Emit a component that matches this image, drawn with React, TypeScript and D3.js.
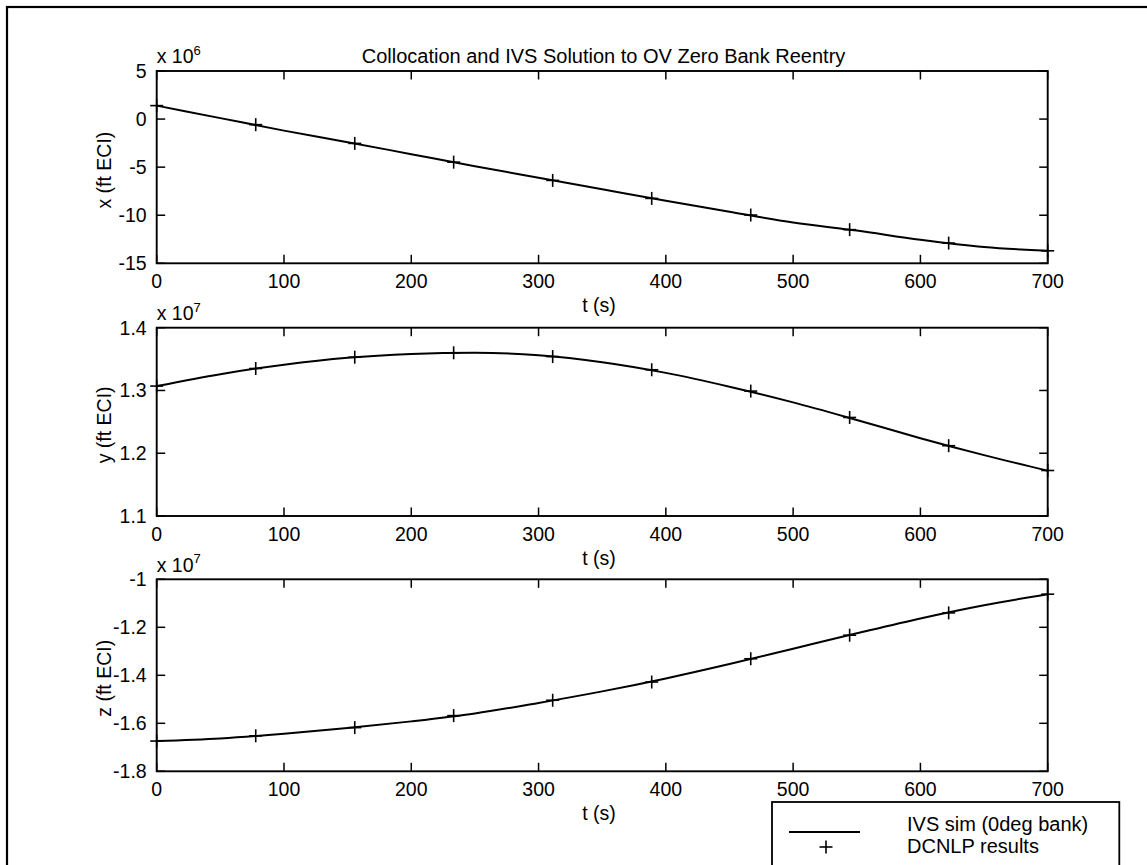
import React from "react";
import * as d3 from "d3";

// ---- data ----
const tSim = [0, 50, 100, 150, 200, 250, 300, 350, 400, 450, 500, 550, 600, 650, 700];
const xSim = [1.4, 0.1, -1.2, -2.4, -3.65, -4.9, -6.1, -7.3, -8.5, -9.65, -10.75, -11.6, -12.55, -13.3, -13.7];
const ySim = [1.307, 1.326, 1.341, 1.352, 1.358, 1.36, 1.356, 1.345, 1.328, 1.306, 1.281, 1.253, 1.224, 1.197, 1.172];
const zSim = [-1.674, -1.663, -1.644, -1.62, -1.592, -1.559, -1.515, -1.467, -1.413, -1.353, -1.289, -1.225, -1.163, -1.108, -1.062];

const tMarkers = [0, 77.8, 155.6, 233.3, 311.1, 388.9, 466.7, 544.4, 622.2, 700];
const xMarkers = [1.4, -0.58, -2.53, -4.48, -6.38, -8.25, -9.98, -11.5, -12.9, -13.7];
const yMarkers = [1.307, 1.335, 1.353, 1.36, 1.354, 1.333, 1.299, 1.257, 1.212, 1.1725];
const zMarkers = [-1.674, -1.652, -1.618, -1.568, -1.504, -1.428, -1.331, -1.233, -1.14, -1.062];

const tTicks = [0, 100, 200, 300, 400, 500, 600, 700];
const xTicks = [-15, -10, -5, 0, 5];
const yTicks = [1.1, 1.2, 1.3, 1.4];
const zTicks = [-1.8, -1.6, -1.4, -1.2, -1];

const titleText = "Collocation and IVS Solution to OV Zero Bank Reentry";
const xLabel = "t (s)";
const legendLabels = ["IVS sim (0deg bank)", "DCNLP results"];

const panels = [
  { label: "x (ft ECI)", exp: "6", sim: xSim, mk: xMarkers, ticks: xTicks, domain: [-15, 5], top: 71, bottom: 263.3 },
  { label: "y (ft ECI)", exp: "7", sim: ySim, mk: yMarkers, ticks: yTicks, domain: [1.1, 1.4], top: 327.7, bottom: 516 },
  { label: "z (ft ECI)", exp: "7", sim: zSim, mk: zMarkers, ticks: zTicks, domain: [-1.8, -1], top: 579.3, bottom: 771.3 },
];

const FONT = "'Liberation Sans', Arial, Helvetica, sans-serif";
const LEFT = 156.7;
const RIGHT = 1047.7;

function fmt(v: number) {
  return String(Math.round(v * 10) / 10);
}

function Panel({ p }: { p: (typeof panels)[number] }) {
  const xs = d3.scaleLinear().domain([0, 700]).range([LEFT, RIGHT]);
  const ys = d3.scaleLinear().domain(p.domain).range([p.bottom, p.top]);
  const line = d3
    .line<number>()
    .x((_, i) => xs(tSim[i]))
    .y((d) => ys(d))
    .curve(d3.curveMonotoneX);
  const tl = 8.5;
  const arm = 6.5;
  const midY = (p.top + p.bottom) / 2;
  return (
    <g>
      <path d={line(p.sim) || ""} fill="none" stroke="#000" strokeWidth={2} />
      {p.mk.map((v, i) => {
        const cx = xs(tMarkers[i]);
        const cy = ys(v);
        return (
          <g key={i} stroke="#000" strokeWidth={1.6}>
            <line x1={cx - arm} x2={cx + arm} y1={cy} y2={cy} />
            <line x1={cx} x2={cx} y1={cy - arm} y2={cy + arm} />
          </g>
        );
      })}
      <rect x={LEFT} y={p.top} width={RIGHT - LEFT} height={p.bottom - p.top} fill="none" stroke="#000" strokeWidth={1.9} />
      {tTicks.map((t) => (
        <g key={"t" + t}>
          <line x1={xs(t)} x2={xs(t)} y1={p.bottom} y2={p.bottom - tl} stroke="#000" strokeWidth={1.5} />
          <line x1={xs(t)} x2={xs(t)} y1={p.top} y2={p.top + tl} stroke="#000" strokeWidth={1.5} />
          <text x={xs(t)} y={p.bottom + 25} textAnchor="middle" fontSize={19.5} fontFamily={FONT}>
            {t}
          </text>
        </g>
      ))}
      {p.ticks.map((v) => (
        <g key={"y" + v}>
          <line x1={LEFT} x2={LEFT + tl} y1={ys(v)} y2={ys(v)} stroke="#000" strokeWidth={1.5} />
          <line x1={RIGHT} x2={RIGHT - tl} y1={ys(v)} y2={ys(v)} stroke="#000" strokeWidth={1.5} />
          <text x={LEFT - 10} y={ys(v)} dy="0.36em" textAnchor="end" fontSize={19.5} fontFamily={FONT}>
            {fmt(v)}
          </text>
        </g>
      ))}
      <text x={LEFT} y={p.top - 7.7} fontSize={19.5} fontFamily={FONT}>
        x 10
        <tspan dy={-8.5} fontSize={13}>
          {p.exp}
        </tspan>
      </text>
      <text
        transform={`translate(111, ${midY + 3}) rotate(-90)`}
        textAnchor="middle"
        fontSize={19.5}
        fontFamily={FONT}
      >
        {p.label}
      </text>
      <text x={599} y={p.bottom + 49} textAnchor="middle" fontSize={19.5} fontFamily={FONT}>
        {xLabel}
      </text>
    </g>
  );
}

export default function App() {
  return (
    <svg
      width={1147}
      height={865}
      style={{ position: "absolute", left: 0, top: 0, background: "#fff" }}
    >
      <rect x={0} y={0} width={1147} height={865} fill="#fff" />
      <rect x={7} y={7} width={1300} height={1000} fill="none" stroke="#000" strokeWidth={2.2} />
      <text x={603.5} y={62.7} textAnchor="middle" fontSize={20} fontFamily={FONT}>
        {titleText}
      </text>
      {panels.map((p, i) => (
        <Panel key={i} p={p} />
      ))}
      <g>
        <rect x={772} y={802} width={347.3} height={120} fill="#fff" stroke="#000" strokeWidth={1.8} />
        <line x1={789} x2={860} y1={832} y2={832} stroke="#000" strokeWidth={2} />
        <line x1={819.5} x2={832.5} y1={847} y2={847} stroke="#000" strokeWidth={1.6} />
        <line x1={826} x2={826} y1={840.5} y2={853.5} stroke="#000" strokeWidth={1.6} />
        <text x={907} y={831} fontSize={20} fontFamily={FONT}>
          {legendLabels[0]}
        </text>
        <text x={907} y={853} fontSize={20} fontFamily={FONT}>
          {legendLabels[1]}
        </text>
      </g>
    </svg>
  );
}
